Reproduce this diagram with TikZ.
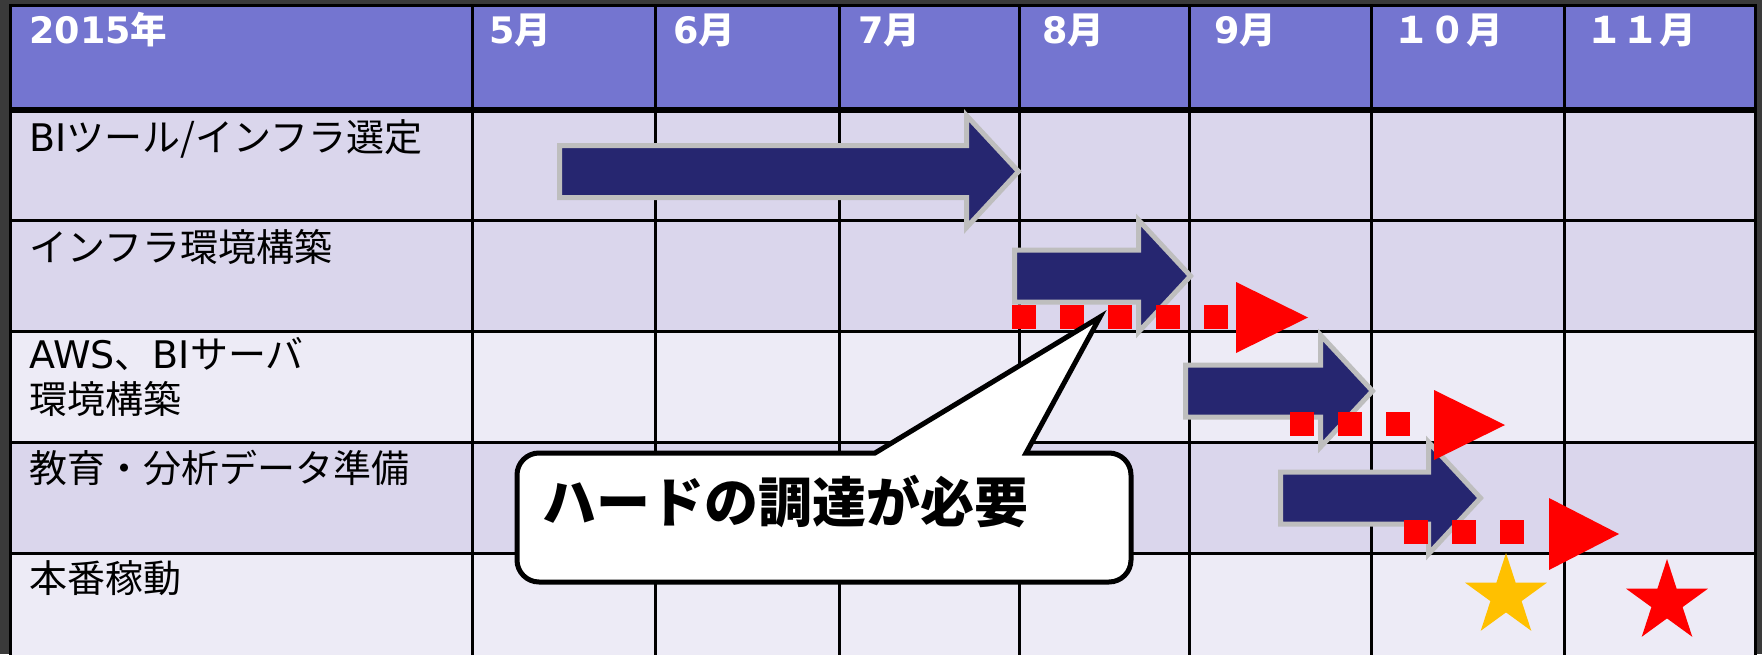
\documentclass[tikz,border=0pt]{standalone}
\usepackage{fontspec}
\setmainfont{Noto Sans CJK JP}
\newfontfamily\latf{DejaVu Sans}
\definecolor{bgdark}{RGB}{58,58,58}
\definecolor{hdrblue}{RGB}{116,117,208}
\definecolor{rowA}{RGB}{218,214,236}
\definecolor{rowB}{RGB}{237,235,246}
\definecolor{barnavy}{RGB}{38,38,112}
\definecolor{arrowgray}{RGB}{190,190,190}
\definecolor{starY}{RGB}{255,192,0}
\begin{document}
\begin{tikzpicture}[x=1pt,y=1pt,
  hdrtext/.style={anchor=base west, inner sep=0pt, text=white, font=\fontsize{36.5pt}{40pt}\selectfont\bfseries},
  lbl/.style={anchor=base west, inner sep=0pt, font=\fontsize{38pt}{45pt}\selectfont},
  gridline/.style={line width=3pt, draw=black},
  blockarr/.style={fill=barnavy, draw=arrowgray, line width=5pt, line join=miter, miter limit=10},
  reddots/.style={draw=red, line width=24pt, dash pattern=on 24pt off 24pt},
  redhead/.style={fill=red},
  callout/.style={fill=white, draw=black, line width=5pt},
]
\useasboundingbox (0,0) rectangle (1762,-654);
\fill[bgdark] (0,0) rectangle (1762,-654);
\begin{scope}
\clip (0,0) rectangle (1762,-654);
% cells
\fill[hdrblue] (10,-5) rectangle (1755,-110);
\fill[rowA] (10,-110) rectangle (1755,-331);
\fill[rowB] (10,-331) rectangle (1755,-442);
\fill[rowA] (10,-442) rectangle (1755,-553);
\fill[rowB] (10,-553) rectangle (1755,-670);
% grid
\foreach \x in {472,655,839,1019,1189,1371,1564}
  \draw[gridline] (\x,-5) -- (\x,-670);
\foreach \y in {-220,-331,-442,-553}
  \draw[gridline] (10,\y) -- (1755,\y);
\draw[line width=6pt] (10,-110) -- (1755,-110);
\draw[gridline] (10,-670) -- (10,-5) -- (1755,-5) -- (1755,-670);
\end{scope}
% header texts
\node[hdrtext] (hyear) at (29,-43) {{\latf 2015}年};
\node[hdrtext] (m5) at (489,-43) {{\latf 5}月};
\node[hdrtext] (m6) at (673,-43) {{\latf 6}月};
\node[hdrtext] (m7) at (858,-43) {{\latf 7}月};
\node[hdrtext] (m8) at (1042,-43) {{\latf 8}月};
\node[hdrtext] (m9) at (1214,-43) {{\latf 9}月};
\node[hdrtext] (m10) at (1393,-43) {１０月};
\node[hdrtext] (m11) at (1586,-43) {１１月};
% row labels
\node[lbl] (r1) at (29,-151) {{\latf BI}ツール/インフラ選定};
\node[lbl] (r2) at (29,-261) {インフラ環境構築};
\node[lbl] (r3a) at (29,-368) {{\latf AWS}、{\latf BI}サーバ};
\node[lbl] (r3b) at (29,-413) {環境構築};
\node[lbl] (r4) at (29,-482) {教育・分析データ準備};
\node[lbl] (r5) at (29,-592) {本番稼動};
% block arrows
\newcommand{\blockarrow}[3]{%
  \draw[blockarr] (#1,#3+26) -- (#2-52,#3+26) -- (#2-52,#3+56) -- (#2,#3)
    -- (#2-52,#3-56) -- (#2-52,#3-26) -- (#1,#3-26) -- cycle;}
\blockarrow{559.5}{1018.5}{-171.5}
\blockarrow{1014.5}{1190.5}{-276}
\blockarrow{1185.5}{1372.5}{-391}
\blockarrow{1280.5}{1480.5}{-498}
% red dotted delays
\draw[reddots] (1012,-317) -- (1229,-317);
\fill[redhead] (1236,-282) -- (1308,-317.5) -- (1236,-353) -- cycle;
\draw[reddots] (1290,-424) -- (1410,-424);
\fill[redhead] (1434,-390) -- (1505,-425) -- (1434,-460) -- cycle;
\draw[reddots] (1404,-532) -- (1524,-532);
\fill[redhead] (1549,-498) -- (1619,-534) -- (1549,-570) -- cycle;
% callout
\draw[callout] (517,-520) [rounded corners=22pt] -- (517,-453) -- (840,-453)
  [sharp corners] -- (875,-453) -- (1100,-317) -- (1026,-453) -- (1060,-453)
  [rounded corners=22pt] -- (1131,-453) -- (1131,-582) -- (517,-582) -- cycle;
\node[anchor=base west, inner sep=0pt, font=\fontsize{54pt}{60pt}\selectfont\bfseries] (calltext) at (542,-522) {ハードの調達が必要};
% stars
\fill[starY, shift={(1506,-596)}] (90:43pt) -- (126:16.4pt) -- (162:43pt) -- (198:16.4pt) -- (234:43pt) -- (270:16.4pt) -- (306:43pt) -- (342:16.4pt) -- (18:43pt) -- (54:16.4pt) -- cycle;
\fill[red, shift={(1667,-602)}] (90:43pt) -- (126:16.4pt) -- (162:43pt) -- (198:16.4pt) -- (234:43pt) -- (270:16.4pt) -- (306:43pt) -- (342:16.4pt) -- (18:43pt) -- (54:16.4pt) -- cycle;
\end{tikzpicture}
\end{document}
